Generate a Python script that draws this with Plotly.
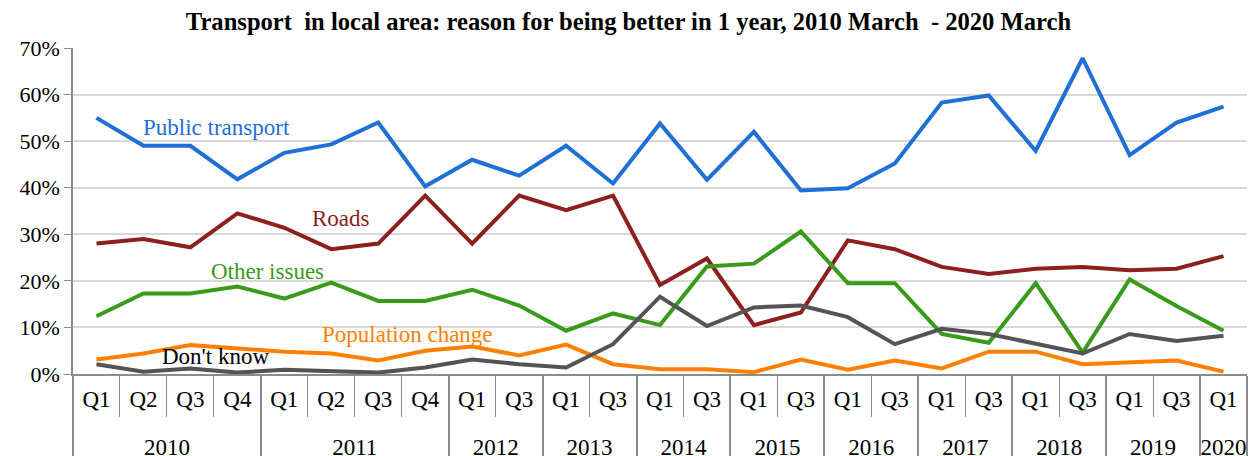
import plotly.graph_objects as go

years = ["2010"] * 4 + ["2011"] * 4 + ["2012"] * 2 + ["2013"] * 2 + ["2014"] * 2 + \
        ["2015"] * 2 + ["2016"] * 2 + ["2017"] * 2 + ["2018"] * 2 + ["2019"] * 2 + ["2020"]
quarters = ["Q1", "Q2", "Q3", "Q4", "Q1", "Q2", "Q3", "Q4"] + ["Q1", "Q3"] * 8 + ["Q1"]

public_transport = [55.0, 49.0, 49.0, 41.8, 47.5, 49.3, 54.0, 40.3, 46.0, 42.6, 49.0, 40.9, 53.8,
                    41.7, 52.0, 39.4, 39.9, 45.2, 58.3, 59.8, 47.9, 67.8, 47.0, 54.0, 57.4]
roads = [28.0, 29.0, 27.2, 34.5, 31.4, 26.8, 28.0, 38.3, 28.0, 38.3, 35.2, 38.3, 19.1,
         24.8, 10.5, 13.2, 28.7, 26.8, 23.0, 21.5, 22.6, 23.0, 22.3, 22.6, 25.3]
other_issues = [12.4, 17.3, 17.3, 18.8, 16.2, 19.6, 15.7, 15.7, 18.1, 14.7, 9.3, 13.0, 10.5,
                23.1, 23.7, 30.6, 19.5, 19.5, 8.6, 6.7, 19.5, 4.6, 20.3, 14.6, 9.3]
population_change = [3.1, 4.4, 6.2, 5.5, 4.8, 4.4, 2.9, 5.0, 5.9, 4.0, 6.3, 2.1, 1.0,
                     1.0, 0.4, 3.1, 0.9, 2.9, 1.2, 4.8, 4.8, 2.1, 2.4, 2.9, 0.5]
dont_know = [2.1, 0.5, 1.2, 0.3, 0.9, 0.5, 0.3, 1.4, 3.1, 2.1, 1.4, 6.4, 16.6,
             10.3, 14.3, 14.7, 12.2, 6.4, 9.7, 8.6, 6.4, 4.4, 8.6, 7.1, 8.2]

series = [
    ("Public transport", public_transport, "#1f6fd8", 0.0577, 53.0),
    ("Roads", roads, "#8e1f1f", 0.2019, 33.4),
    ("Other issues", other_issues, "#3a9a1c", 0.1161, 22.1),
    ("Population change", population_change, "#ff8000", 0.2104, 8.5),
    ("Don't know", dont_know, "#545458", 0.0741, 3.7),
]
label_colors = ["#1f6fd8", "#8e1f1f", "#3a9a1c", "#ff8000", "#000000"]

SERIF = "Liberation Serif, Times New Roman, serif"

# quarter labels carry a tiny blank second line so the year row sits lower
quarter_labels = [q + "<br><span style='font-size:1px'>\u00a0</span>" for q in quarters]

fig = go.Figure()
for name, vals, color, lx, ly in series:
    fig.add_trace(go.Scatter(
        x=[years, quarter_labels], y=[v / 100 for v in vals], mode="lines", name=name,
        line=dict(color=color, width=4), showlegend=False,
    ))

for (name, vals, color, lx, ly), lc in zip(series, label_colors):
    fig.add_annotation(text=name, xref="paper", yref="y", x=lx, y=ly / 100,
                       xanchor="left", yanchor="middle", showarrow=False,
                       font=dict(family=SERIF, size=23, color=lc))

fig.update_layout(
    width=1257, height=456,
    margin=dict(l=73, r=10, t=48, b=82),
    paper_bgcolor="white", plot_bgcolor="white",
    title=dict(text="<b>Transport  in local area: reason for being better in 1 year, 2010 March  - 2020 March</b>",
               x=0.5, xanchor="center", y=0.952, yanchor="middle",
               font=dict(family=SERIF, size=24.6, color="black")),
    font=dict(family=SERIF, size=23, color="black"),
)
fig.update_yaxes(range=[0, 0.7], dtick=0.1, tickformat=".0%", automargin=False,
                 showgrid=True, gridcolor="#d9d8d2", gridwidth=1.5,
                 showline=True, linecolor="#8c8c8c", linewidth=1.5,
                 ticks="outside", ticklen=7, tickcolor="#8c8c8c",
                 zeroline=False, tickfont=dict(family=SERIF, size=22))
fig.update_xaxes(type="multicategory", automargin=False,
                 range=[-0.5, len(quarters) - 0.5],
                 showline=True, linecolor="#8c8c8c", linewidth=1.5,
                 ticks="outside", ticklen=41, tickcolor="#8c8c8c", tickson="boundaries",
                 ticklabelstandoff=4,
                 showdividers=True, dividercolor="#8c8c8c", dividerwidth=1.5,
                 showgrid=False, tickfont=dict(family=SERIF, size=23))

fig.write_html("out.html", config={"displayModeBar": False},
               post_script="document.body.style.margin='0';")
